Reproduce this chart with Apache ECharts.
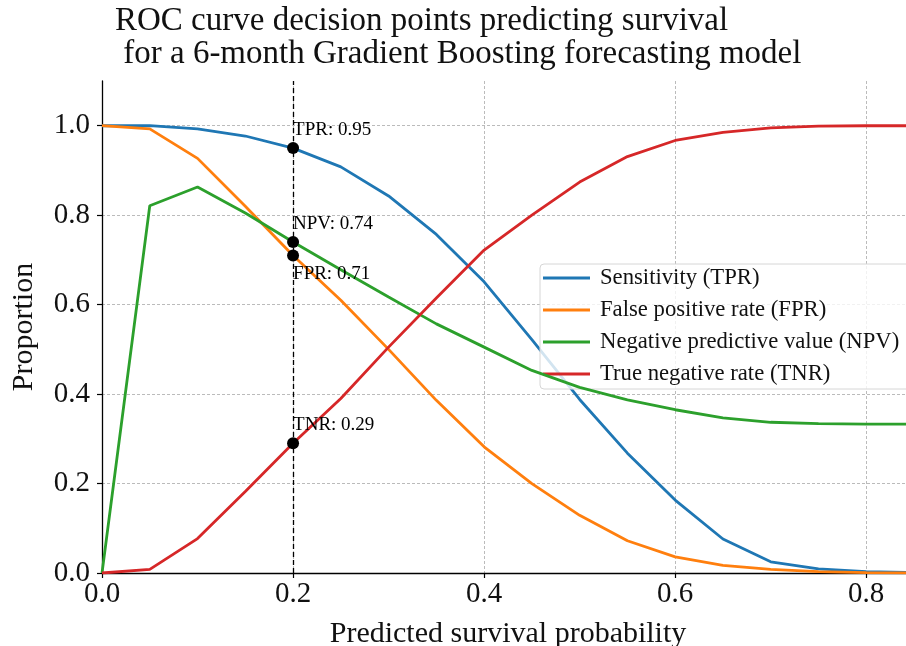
<!DOCTYPE html>
<html>
<head>
<meta charset="utf-8">
<script src="https://cdn.jsdelivr.net/npm/echarts@6/dist/echarts.min.js"></script>
<style>
html,body{margin:0;padding:0;background:#fff;}
#chart{width:906px;height:646px;}
</style>
</head>
<body>
<div id="chart"></div>
<script>
// ---- data ----
const THRESHOLDS = [0.00, 0.05, 0.10, 0.15, 0.20, 0.25, 0.30, 0.35, 0.40, 0.45, 0.50, 0.55, 0.60, 0.65, 0.70, 0.75, 0.80, 0.85];
const TPR = [1.000, 1.000, 0.993, 0.977, 0.950, 0.908, 0.843, 0.757, 0.651, 0.522, 0.388, 0.268, 0.163, 0.076, 0.025, 0.009, 0.003, 0.001];
const FPR = [1.000, 0.993, 0.927, 0.820, 0.710, 0.610, 0.500, 0.386, 0.282, 0.200, 0.129, 0.072, 0.036, 0.017, 0.008, 0.003, 0.001, 0.000];
const NPV = [0.000, 0.821, 0.863, 0.805, 0.740, 0.678, 0.617, 0.557, 0.505, 0.453, 0.415, 0.387, 0.365, 0.347, 0.337, 0.334, 0.333, 0.333];
const TNR = [0.000, 0.008, 0.077, 0.182, 0.290, 0.390, 0.505, 0.615, 0.722, 0.800, 0.874, 0.931, 0.967, 0.985, 0.995, 0.999, 1.000, 1.000];
const SERIES_NAMES = ['Sensitivity (TPR)', 'False positive rate (FPR)', 'Negative predictive value (NPV)', 'True negative rate (TNR)'];
const DECISION_X = 0.2;
const DECISION_LABELS = ['TPR', 'NPV', 'FPR', 'TNR'];
const DECISION_VALUES = [0.95, 0.74, 0.71, 0.29];
const X_TICKS = [0.0, 0.2, 0.4, 0.6, 0.8];
const Y_TICKS = [0.0, 0.2, 0.4, 0.6, 0.8, 1.0];
const TITLE = 'ROC curve decision points predicting survival\n for a 6-month Gradient Boosting forecasting model';
const X_NAME = 'Predicted survival probability';
const Y_NAME = 'Proportion';

// ---- style ----
const FONT = "'Liberation Serif', 'DejaVu Serif', serif";
const COLORS = ['#1f77b4', '#ff7f0e', '#2ca02c', '#d62728'];

const chart = echarts.init(document.getElementById('chart'), null, {renderer: 'canvas'});

const lineSeries = [TPR, FPR, NPV, TNR].map((vals, i) => ({
  name: SERIES_NAMES[i],
  type: 'line',
  data: THRESHOLDS.map((x, j) => [x, vals[j]]),
  showSymbol: false,
  symbol: 'none',
  lineStyle: {color: COLORS[i], width: 2.8},
  itemStyle: {color: COLORS[i]},
  z: 3 + i,
  animation: false
}));

const decisionSeries = {
  name: 'decision',
  type: 'scatter',
  data: DECISION_VALUES.map((v, i) => ({
    value: [DECISION_X, v],
    label: {
      show: true,
      formatter: DECISION_LABELS[i] + ': ' + v.toFixed(2),
      position: 'inside',
      align: 'left',
      verticalAlign: DECISION_LABELS[i] === 'FPR' ? 'top' : 'bottom',
      offset: DECISION_LABELS[i] === 'FPR' ? [0, 9] : [0, -8],
      fontFamily: FONT,
      fontSize: 19,
      lineHeight: 20,
      color: '#000',
      opacity: 1
    }
  })),
  symbol: 'circle',
  symbolSize: 12,
  itemStyle: {color: '#000', opacity: 1},
  z: 10,
  animation: false,
  markLine: {
    silent: true,
    symbol: 'none',
    label: {show: false},
    lineStyle: {color: '#000', type: [5, 3], width: 1.3, opacity: 1},
    data: [{xAxis: DECISION_X}],
    animation: false
  }
};

const gridLineStyle = {color: '#aaaaaa', type: [3, 2], width: 0.8};

chart.setOption({
  backgroundColor: '#fff',
  animation: false,
  title: {
    text: TITLE,
    left: 115,
    top: 5,
    padding: 0,
    textStyle: {fontFamily: FONT, fontSize: 33, fontWeight: 'normal', color: '#111', lineHeight: 33, align: 'left'}
  },
  legend: {
    data: SERIES_NAMES,
    orient: 'vertical',
    left: 540,
    top: 264,
    icon: 'rect',
    itemWidth: 47,
    itemHeight: 3,
    itemGap: 8,
    padding: [2, 30, 3, 3],
    backgroundColor: 'rgba(255,255,255,0.8)',
    borderColor: '#d6d6d6',
    borderWidth: 1,
    borderRadius: 4,
    textStyle: {fontFamily: FONT, fontSize: 22.7, lineHeight: 24, color: '#111', padding: [0, 0, 0, 5]}
  },
  grid: {left: 102, top: 81, width: 812, height: 492, containLabel: false, outerBoundsMode: 'none'},
  xAxis: {
    type: 'value',
    min: 0,
    max: 0.85,
    interval: 0.2,
    name: X_NAME,
    nameLocation: 'middle',
    nameGap: 46,
    nameTextStyle: {fontFamily: FONT, fontSize: 30, color: '#111'},
    axisLine: {show: true, onZero: false, lineStyle: {color: '#000', width: 1.3}},
    axisTick: {show: true, inside: false, length: 5, lineStyle: {color: '#000', width: 1.2}, customValues: X_TICKS},
    axisLabel: {fontFamily: FONT, fontSize: 29, color: '#111', margin: 7, customValues: X_TICKS, formatter: v => v.toFixed(1)},
    splitLine: {show: true, lineStyle: gridLineStyle}
  },
  yAxis: {
    type: 'value',
    min: 0,
    max: 1.1,
    interval: 0.2,
    name: Y_NAME,
    nameLocation: 'middle',
    nameGap: 63,
    nameTextStyle: {fontFamily: FONT, fontSize: 30, color: '#111'},
    axisLine: {show: true, onZero: false, lineStyle: {color: '#000', width: 1.3}},
    axisTick: {show: true, inside: false, length: 5, lineStyle: {color: '#000', width: 1.2}, customValues: Y_TICKS},
    axisLabel: {fontFamily: FONT, fontSize: 29, color: '#111', margin: 12, customValues: Y_TICKS, formatter: v => v.toFixed(1)},
    splitLine: {show: true, lineStyle: gridLineStyle}
  },
  series: [...lineSeries, decisionSeries]
});
</script>
</body>
</html>
